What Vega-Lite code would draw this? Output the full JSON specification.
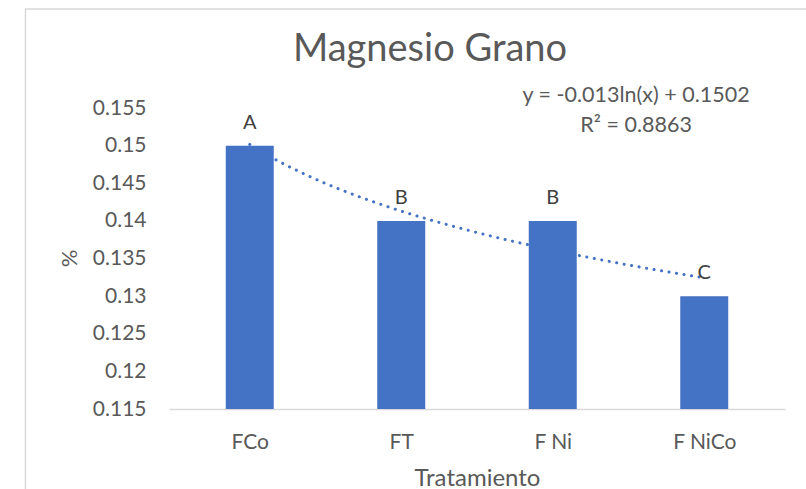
{
  "$schema": "https://vega.github.io/schema/vega-lite/v6.json",
  "width": 616,
  "height": 301,
  "autosize": {"type": "none"},
  "padding": {"left": 169, "top": 108, "right": 21, "bottom": 80},
  "background": "white",
  "config": {
    "view": {"stroke": null},
    "font": "Lato",
    "axis": {"labelOverlap": false}
  },
  "title": {
    "text": "Magnesio Grano",
    "fontSize": 38,
    "fontWeight": "normal",
    "color": "#595959",
    "font": "Lato",
    "anchor": "middle",
    "frame": "group",
    "dx": -47,
    "baseline": "alphabetic",
    "offset": -91
  },
  "datasets": {
    "bars": [
      {"idx": 1, "trat": "FCo", "value": 0.15, "letra": "A"},
      {"idx": 2, "trat": "FT", "value": 0.14, "letra": "B"},
      {"idx": 3, "trat": "F Ni", "value": 0.14, "letra": "B"},
      {"idx": 4, "trat": "F NiCo", "value": 0.13, "letra": "C"}
    ],
    "notes": [
      {"nx": 3.55, "ny": 0.1558, "txt": "y = -0.013ln(x) + 0.1502"},
      {"nx": 3.55, "ny": 0.1518, "txt": "R² = 0.8863"}
    ]
  },
  "layer": [
    {
      "data": {"name": "bars"},
      "mark": {"type": "bar", "size": 48, "color": "#4472C4"},
      "encoding": {
        "x": {
          "field": "idx",
          "type": "quantitative",
          "scale": {"domain": [0.5, 4.5], "nice": false, "zero": false},
          "axis": {
            "title": "Tratamiento",
            "values": [1, 2, 3, 4],
            "tickCount": 10,
            "labelExpr": "datum.value == 1 ? 'FCo' : datum.value == 2 ? 'FT' : datum.value == 3 ? 'F Ni' : 'F NiCo'",
            "grid": false,
            "ticks": false,
            "tickSize": 0,
            "domainColor": "#D9D9D9",
            "domainWidth": 1.5,
            "labelFontSize": 21,
            "labelColor": "#595959",
            "labelBaseline": "alphabetic",
            "labelPadding": 39,
            "labelFlush": false,
            "labelOverlap": false,
            "titleFontSize": 24,
            "titleFontWeight": "normal",
            "titleColor": "#595959",
            "titleX": 308,
            "titleY": 76,
            "titleBaseline": "alphabetic",
            "titleAlign": "center"
          }
        },
        "y": {
          "field": "value",
          "type": "quantitative",
          "scale": {"domain": [0.115, 0.155], "nice": false, "zero": false},
          "axis": {
            "title": "%",
            "values": [0.115, 0.12, 0.125, 0.13, 0.135, 0.14, 0.145, 0.15, 0.155],
            "tickCount": 12,
            "format": "~g",
            "grid": false,
            "ticks": false,
            "tickSize": 0,
            "domain": false,
            "labelFontSize": 21,
            "labelColor": "#595959",
            "labelPadding": 23,
            "labelOverlap": false,
            "titleFontSize": 22,
            "titleFontWeight": "normal",
            "titleColor": "#595959",
            "titleX": -100,
            "titleY": 150,
            "titleAngle": 270,
            "titleAlign": "center",
            "titleBaseline": "middle"
          }
        },
        "y2": {"datum": 0.115}
      }
    },
    {
      "data": {"name": "bars"},
      "transform": [
        {"regression": "value", "on": "idx", "method": "log", "extent": [1, 4]}
      ],
      "mark": {"type": "line", "color": "#4472C4", "strokeWidth": 3, "strokeDash": [0.1, 7.5], "strokeCap": "round"},
      "encoding": {
        "x": {"field": "idx", "type": "quantitative"},
        "y": {"field": "value", "type": "quantitative"}
      }
    },
    {
      "data": {"name": "bars"},
      "mark": {"type": "text", "fontSize": 20, "color": "#404040", "baseline": "alphabetic", "dy": -17},
      "encoding": {
        "x": {"field": "idx", "type": "quantitative"},
        "y": {"field": "value", "type": "quantitative"},
        "text": {"field": "letra"}
      }
    },
    {
      "data": {"name": "notes"},
      "mark": {"type": "text", "fontSize": 21.5, "color": "#595959", "baseline": "alphabetic"},
      "encoding": {
        "x": {"field": "nx", "type": "quantitative"},
        "y": {"field": "ny", "type": "quantitative"},
        "text": {"field": "txt"}
      }
    },
    {
      "data": {"values": [{}]},
      "mark": {"type": "rect", "fill": "transparent", "stroke": "#D9D9D9", "strokeWidth": 1.5},
      "encoding": {
        "x": {"datum": -0.4805, "type": "quantitative"},
        "x2": {"datum": 6},
        "y": {"datum": 0.16816, "type": "quantitative"},
        "y2": {"datum": 0.1}
      }
    }
  ]
}
